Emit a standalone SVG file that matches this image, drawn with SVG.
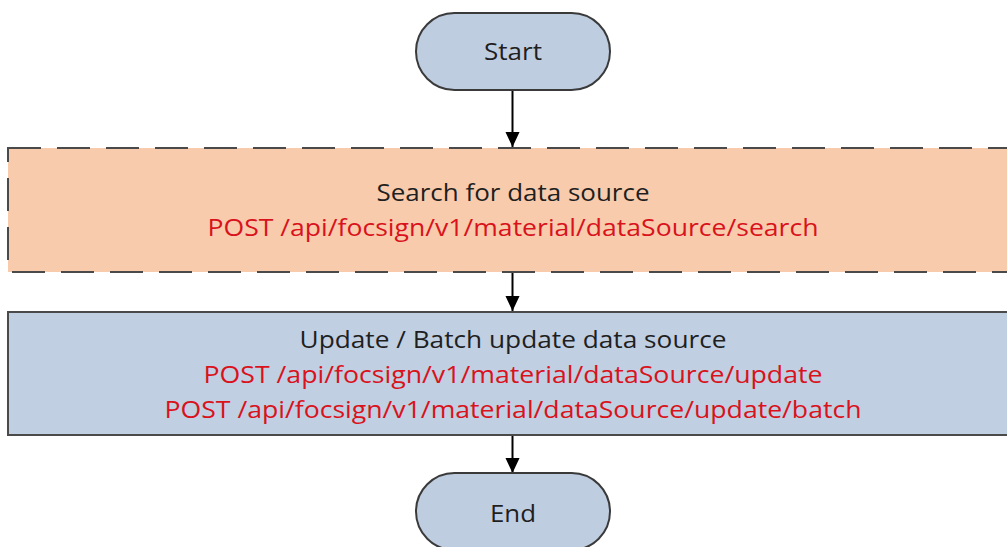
<svg xmlns="http://www.w3.org/2000/svg" width="1007" height="547" viewBox="0 0 1007 547">
<style>
.term{fill:#bfcde1;stroke:#3a3a3a;stroke-width:2}
.t{font-family:"Open Sans","Liberation Sans",sans-serif;font-size:23px;text-anchor:middle;fill:#1f1f1f}
.r{fill:#d9121b}
.c{stroke:#000;stroke-width:2;fill:none;marker-end:url(#ah)}
</style>
<defs>
<marker id="ah" markerWidth="15" markerHeight="16" refX="16" refY="7.5" orient="auto" markerUnits="userSpaceOnUse" viewBox="0 0 16 15"><path d="M0,0 L16,7.5 L0,15 z" fill="#000"/></marker>
</defs>
<rect width="1007" height="547" fill="#fff"/>
<g id="connectors">
<line class="c" x1="512.5" y1="90" x2="512.5" y2="147"/>
<line class="c" x1="512.5" y1="272" x2="512.5" y2="311"/>
<line class="c" x1="512.5" y1="435" x2="512.5" y2="473"/>
</g>
<g id="start">
<rect class="term" x="416" y="13" width="194" height="77" rx="38.5"/>
<text class="t" x="513" y="60" textLength="58" lengthAdjust="spacingAndGlyphs">Start</text>
</g>
<g id="search">
<rect x="8" y="148" width="1010" height="124" fill="#f8cbad" stroke="#4a4a4a" stroke-width="2" stroke-dasharray="33 16"/>
<text class="t" x="513" y="201" textLength="273" lengthAdjust="spacingAndGlyphs">Search for data source</text>
<text class="t r" x="513" y="236" textLength="611" lengthAdjust="spacingAndGlyphs">POST /api/focsign/v1/material/dataSource/search</text>
</g>
<g id="update">
<rect x="8" y="312" width="1010" height="123" fill="#c0cfe2" stroke="#4a4a4a" stroke-width="2"/>
<text class="t" x="513" y="348" textLength="427" lengthAdjust="spacingAndGlyphs">Update / Batch update data source</text>
<text class="t r" x="513" y="383" textLength="619" lengthAdjust="spacingAndGlyphs">POST /api/focsign/v1/material/dataSource/update</text>
<text class="t r" x="513" y="418" textLength="697" lengthAdjust="spacingAndGlyphs">POST /api/focsign/v1/material/dataSource/update/batch</text>
</g>
<g id="end">
<rect class="term" x="416" y="473" width="194" height="77" rx="38.5"/>
<text class="t" x="513" y="522" textLength="46" lengthAdjust="spacingAndGlyphs">End</text>
</g>
</svg>
